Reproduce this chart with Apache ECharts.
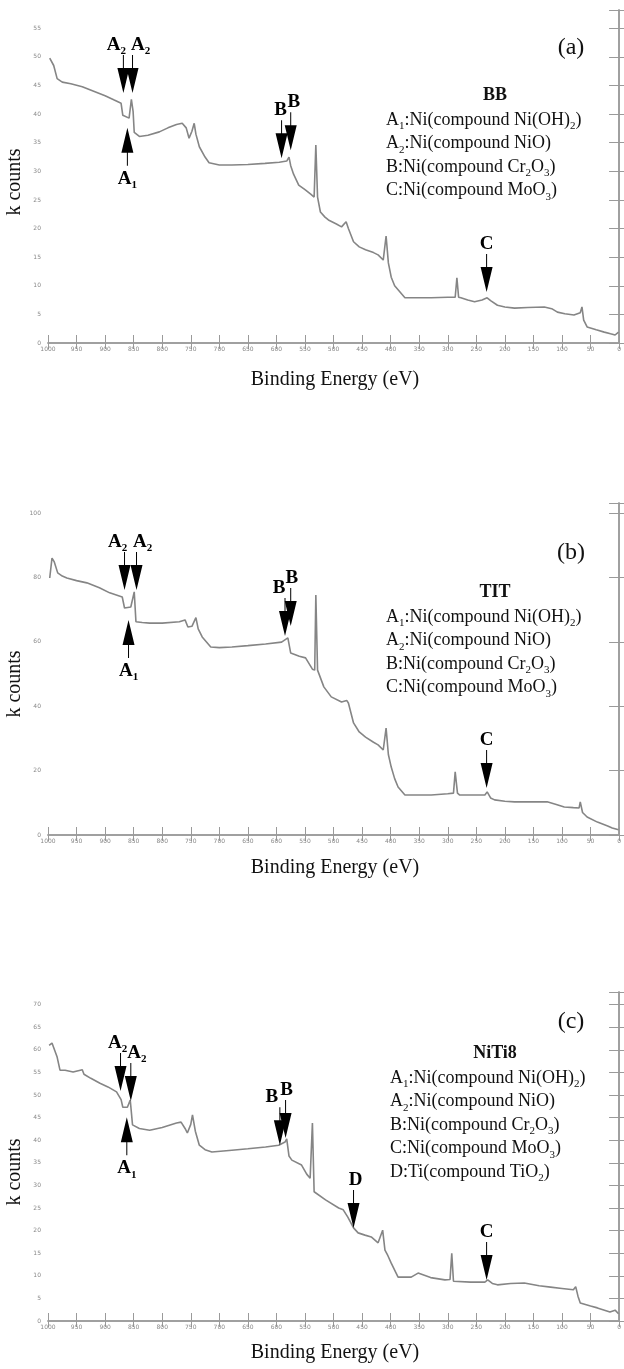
<!DOCTYPE html>
<html>
<head>
<meta charset="utf-8">
<script src="https://cdn.jsdelivr.net/npm/echarts@6/dist/echarts.min.js"></script>
<style>
  html, body { margin: 0; padding: 0; background: #fff; }
  #chart { width: 624px; height: 1369px; }
</style>
</head>
<body>
<div id="chart"></div>
<script>
// x axis: binding energy, 1000 -> 0 eV
const xTicks = [1000, 950, 900, 850, 800, 750, 700, 650, 600, 550, 500, 450, 400, 350, 300, 250, 200, 150, 100, 50, 0];
const yTicksA = [0, 5, 10, 15, 20, 25, 30, 35, 40, 45, 50, 55];
const yTicksB = [0, 20, 40, 60, 80, 100];
const yTicksC = [0, 5, 10, 15, 20, 25, 30, 35, 40, 45, 50, 55, 60, 65, 70];

// (a) BB
const energyA = [997, 990, 984, 975, 960, 940, 920, 900, 885, 872, 869, 858, 854, 851, 849, 840, 825, 805, 790, 775, 765, 758, 753, 748, 744, 741, 735, 725, 718, 700, 678, 650, 620, 595, 582, 578, 575, 570, 561, 550, 540, 534, 531, 528, 523, 515, 509, 495, 486, 478, 474, 465, 455, 444, 430, 422, 413, 408, 404, 399, 393, 387, 375, 350, 329, 300, 287, 284, 281, 277, 265, 253, 240, 231, 225, 213, 200, 183, 160, 131, 118, 108, 95, 79, 68, 65, 62, 56, 40, 26, 15, 7, 1];
const countsA = [49.8, 48.5, 46.2, 45.6, 45.3, 44.8, 44.0, 43.2, 42.5, 41.9, 39.8, 39.3, 42.6, 40.5, 36.8, 36.1, 36.3, 36.9, 37.6, 38.2, 38.4, 37.6, 35.8, 37.0, 38.4, 36.5, 34.3, 32.5, 31.5, 31.1, 31.1, 31.2, 31.4, 31.6, 31.8, 32.5, 31.0, 29.5, 27.6, 26.8, 26.0, 25.5, 34.6, 25.5, 22.9, 22.0, 21.5, 20.8, 20.3, 21.2, 20.0, 17.7, 16.8, 16.3, 15.8, 15.4, 14.5, 18.7, 14.0, 11.5, 10.0, 9.3, 7.9, 7.9, 7.9, 8.0, 8.0, 11.4, 8.0, 7.9, 7.5, 7.2, 7.5, 7.9, 7.4, 6.6, 6.3, 6.1, 6.2, 6.3, 6.0, 5.4, 5.1, 4.9, 5.3, 6.3, 4.0, 2.8, 2.3, 1.9, 1.6, 1.4, 1.9];

// (b) TIT
const energyB = [997, 993, 989, 983, 975, 967, 950, 932, 910, 892, 870, 866, 855, 849, 846, 835, 822, 800, 770, 760, 755, 748, 741, 737, 730, 715, 700, 678, 650, 619, 591, 580, 575, 560, 549, 537, 533, 531, 528, 526, 517, 504, 486, 477, 474, 465, 455, 444, 430, 422, 413, 408, 404, 399, 393, 387, 375, 350, 329, 300, 290, 287, 283, 279, 260, 235, 231, 225, 218, 200, 183, 150, 126, 110, 96, 80, 70, 68, 64, 56, 38, 20, 12, 1];
const countsB = [79.8, 86.0, 84.8, 81.4, 80.4, 79.8, 79.0, 78.3, 76.8, 75.2, 73.9, 70.5, 70.8, 75.5, 66.2, 66.0, 65.8, 65.8, 66.2, 66.8, 64.6, 64.8, 67.5, 64.0, 61.5, 58.4, 58.2, 58.4, 58.8, 59.3, 59.9, 61.2, 56.5, 55.5, 55.0, 51.5, 51.2, 74.5, 51.2, 50.8, 46.0, 42.9, 41.3, 41.8, 41.0, 34.8, 32.0, 30.4, 28.8, 28.0, 26.4, 33.2, 25.0, 21.1, 17.5, 14.9, 12.4, 12.4, 12.4, 12.8, 13.0, 19.6, 13.0, 12.4, 12.4, 12.4, 13.4, 11.5, 10.9, 10.5, 10.3, 10.3, 10.3, 9.5, 8.7, 8.5, 8.4, 10.3, 7.0, 5.6, 4.0, 2.8, 2.2, 1.6];

// (c) NiTi8
const energyC = [998, 993, 984, 979, 970, 956, 940, 937, 925, 909, 895, 880, 872, 869, 861, 856, 852, 840, 822, 800, 775, 767, 760, 756, 750, 747, 742, 735, 725, 713, 678, 650, 619, 596, 585, 582, 578, 573, 556, 547, 541, 537, 534, 531, 514, 491, 483, 475, 465, 457, 445, 434, 422, 414, 410, 405, 399, 387, 364, 352, 330, 305, 296, 293, 290, 288, 260, 235, 230, 222, 213, 190, 166, 140, 120, 100, 80, 76, 72, 68, 50, 38, 16, 7, 1];
const countsC = [61.0, 61.5, 58.4, 55.5, 55.5, 55.1, 55.6, 54.6, 53.7, 52.6, 51.8, 50.7, 49.0, 47.3, 47.3, 48.9, 43.4, 42.6, 42.2, 42.8, 43.8, 44.0, 42.6, 41.6, 43.5, 45.6, 42.0, 38.9, 37.9, 37.4, 37.8, 38.1, 38.5, 38.9, 39.6, 40.3, 36.5, 35.6, 34.5, 32.5, 31.6, 43.8, 28.6, 28.3, 26.8, 25.0, 24.6, 23.0, 20.6, 19.5, 19.0, 18.6, 17.3, 20.1, 15.7, 14.5, 12.8, 9.7, 9.7, 10.6, 9.6, 9.1, 9.2, 15.0, 8.8, 8.6, 8.6, 8.6, 9.1, 8.3, 8.0, 8.3, 8.4, 7.8, 7.5, 7.2, 6.9, 7.6, 5.5, 4.0, 3.3, 2.9, 2.0, 2.4, 1.6];

// peak arrows: [letter, subscript, energy, k counts at tip, direction, label shift]
const arrowsA = [['A', '2', 868, 43.7, 'down', -7], ['A', '2', 852, 43.7, 'down', 8], ['A', '1', 861, 37.6, 'up', 0], ['B', '', 591, 32.3, 'down', -1], ['B', '', 575, 33.7, 'down', 3], ['C', '', 232, 8.9, 'down', 0]];
const arrowsB = [['A', '2', 866, 76.1, 'down', -7], ['A', '2', 845, 76.1, 'down', 6], ['A', '1', 859, 66.8, 'up', 0], ['B', '', 585, 61.8, 'down', -6], ['B', '', 575, 64.9, 'down', 1], ['C', '', 232, 14.6, 'down', 0]];
const arrowsC = [['A', '2', 873, 50.9, 'down', -3], ['A', '2', 855, 48.7, 'down', 6], ['A', '1', 862, 45.1, 'up', 0], ['B', '', 594, 38.9, 'down', -8], ['B', '', 584, 40.5, 'down', 1], ['D', '', 465, 20.6, 'down', 2], ['C', '', 232, 9.1, 'down', 0]];

const notesAB = ['{n|A}{s|1}{n|:Ni(compound Ni(OH)}{s|2}{n|)}', '{n|A}{s|2}{n|:Ni(compound NiO)}', '{n|B:Ni(compound Cr}{s|2}{n|O}{s|3}{n|)}', '{n|C:Ni(compound MoO}{s|3}{n|)}'];
const notesC = notesAB.concat(['{n|D:Ti(compound TiO}{s|2}{n|)}']);

const serif = "'Liberation Serif', 'Times New Roman', serif";
const rich = {
  n: { fontFamily: serif, fontSize: 18, color: '#111', lineHeight: 23.6 },
  s: { fontFamily: serif, fontSize: 11, color: '#111', verticalAlign: 'bottom' },
  nb: { fontFamily: serif, fontSize: 19, fontWeight: 'bold', color: '#000', lineHeight: 24 },
  sb: { fontFamily: serif, fontSize: 11, fontWeight: 'bold', color: '#000', verticalAlign: 'bottom' }
};

const DOWN = 'path://M-0.5,0 L0.5,0 L0.5,13 L6,13 L0,38 L-6,13 L-0.5,13 Z';
const UP = 'path://M0,0 L6,25 L0.5,25 L0.5,38 L-0.5,38 L-0.5,25 L-6,25 Z';

const panels = [
  { energy: energyA, counts: countsA, yTicks: yTicksA, yMax: 58.2, arrows: arrowsA, tag: '(a)', sample: 'BB', notes: notesAB,
    box: { left: 48, top: 10, width: 574, height: 333 }, tagY: 48, sampleY: 95, notesX: 386, notesY: 108, yNameY: 182, xNameY: 380 },
  { energy: energyB, counts: countsB, yTicks: yTicksB, yMax: 103.1, arrows: arrowsB, tag: '(b)', sample: 'TIT', notes: notesAB,
    box: { left: 48, top: 503, width: 574, height: 332 }, tagY: 553, sampleY: 592, notesX: 386, notesY: 605, yNameY: 684, xNameY: 868 },
  { energy: energyC, counts: countsC, yTicks: yTicksC, yMax: 72.8, arrows: arrowsC, tag: '(c)', sample: 'NiTi8', notes: notesC,
    box: { left: 48, top: 992, width: 574, height: 329 }, tagY: 1022, sampleY: 1053, notesX: 390, notesY: 1066, yNameY: 1172, xNameY: 1353 }
];

const axisGray = '#9a9a9a';
const tickLabel = { fontSize: 6, color: '#888', fontFamily: 'DejaVu Sans', formatter: v => String(v) };

const grid = [], xAxis = [], yAxis = [], series = [], graphic = [];

panels.forEach((p, i) => {
  grid.push(Object.assign({ show: false }, p.box));
  const xStep = xTicks[0] - xTicks[1];
  const yStep = p.yTicks[1] - p.yTicks[0];
  // bottom axis with labels
  xAxis.push({
    type: 'value', gridIndex: i, inverse: true, min: 0, max: xTicks[0], interval: xStep, position: 'bottom',
    axisLine: { show: true, lineStyle: { color: axisGray, width: 1.5 } },
    axisTick: { show: true, inside: true, length: 8, lineStyle: { color: axisGray } },
    axisLabel: Object.assign({ margin: 3 }, tickLabel),
    splitLine: { show: false }
  });
  // top frame
  xAxis.push({
    type: 'value', gridIndex: i, inverse: true, min: 0, max: xTicks[0], interval: xStep, position: 'top',
    axisLine: { show: true, lineStyle: { color: axisGray, width: 1.5 } },
    axisTick: { show: true, inside: true, length: 6, lineStyle: { color: axisGray } },
    axisLabel: { show: false }, splitLine: { show: false }
  });
  // left axis, labels + outer ticks
  yAxis.push({
    type: 'value', gridIndex: i, min: p.yTicks[0], max: p.yMax, interval: yStep, position: 'left',
    axisLine: { show: true, lineStyle: { color: axisGray, width: 1.5 } },
    axisTick: { show: true, length: 5, lineStyle: { color: axisGray } },
    axisLabel: Object.assign({ margin: 7, showMaxLabel: false }, tickLabel),
    splitLine: { show: false }
  });
  // left axis, inner ticks
  yAxis.push({
    type: 'value', gridIndex: i, min: p.yTicks[0], max: p.yMax, interval: yStep, position: 'left',
    axisLine: { show: false },
    axisTick: { show: true, inside: true, length: 10, lineStyle: { color: axisGray } },
    axisLabel: { show: false }, splitLine: { show: false }
  });
  // right frame
  yAxis.push({
    type: 'value', gridIndex: i, min: p.yTicks[0], max: p.yMax, interval: yStep, position: 'right',
    axisLine: { show: true, lineStyle: { color: axisGray, width: 1.5 } },
    axisTick: { show: true, inside: true, length: 10, lineStyle: { color: axisGray } },
    axisLabel: { show: false }, splitLine: { show: false }
  });

  series.push({
    type: 'line', xAxisIndex: i * 2, yAxisIndex: i * 3, symbol: 'none', silent: true,
    lineStyle: { color: '#858585', width: 1.6 },
    data: p.energy.map((e, k) => [e, p.counts[k]]),
    markPoint: {
      silent: true, animation: false,
      itemStyle: { color: '#000' },
      data: p.arrows.map(a => {
        const down = a[4] === 'down';
        return {
          coord: [a[2], a[3]],
          symbol: down ? DOWN : UP,
          symbolSize: [12, 38],
          symbolOffset: [0, down ? -19 : 19],
          label: {
            show: true, position: down ? 'top' : 'bottom', distance: down ? -2 : 1, offset: [a[5], 0],
            formatter: '{nb|' + a[0] + '}' + (a[1] ? '{sb|' + a[1] + '}' : ''), rich: rich
          }
        };
      })
    }
  });

  graphic.push(
    { type: 'text', x: 571, y: p.tagY, style: { text: p.tag, font: '24px ' + serif, fill: '#111', align: 'center', verticalAlign: 'middle', textAlign: 'center', textVerticalAlign: 'middle' } },
    { type: 'text', x: 495, y: p.sampleY, style: { text: p.sample, font: 'bold 18px ' + serif, fill: '#111', align: 'center', verticalAlign: 'middle', textAlign: 'center', textVerticalAlign: 'middle' } },
    { type: 'text', x: p.notesX, y: p.notesY, style: { text: p.notes.join('\n'), rich: rich, fill: '#111' } },
    { type: 'text', x: 15, y: p.yNameY, rotation: Math.PI / 2, style: { text: 'k counts', font: '20px ' + serif, fill: '#111', align: 'center', verticalAlign: 'middle', textAlign: 'center', textVerticalAlign: 'middle' } },
    { type: 'text', x: 335, y: p.xNameY, style: { text: 'Binding Energy (eV)', font: '20px ' + serif, fill: '#111', align: 'center', verticalAlign: 'middle', textAlign: 'center', textVerticalAlign: 'middle' } }
  );
});

const chart = echarts.init(document.getElementById('chart'));
chart.setOption({
  animation: false,
  backgroundColor: '#fff',
  grid: grid,
  xAxis: xAxis,
  yAxis: yAxis,
  series: series,
  graphic: graphic
});
</script>
</body>
</html>
